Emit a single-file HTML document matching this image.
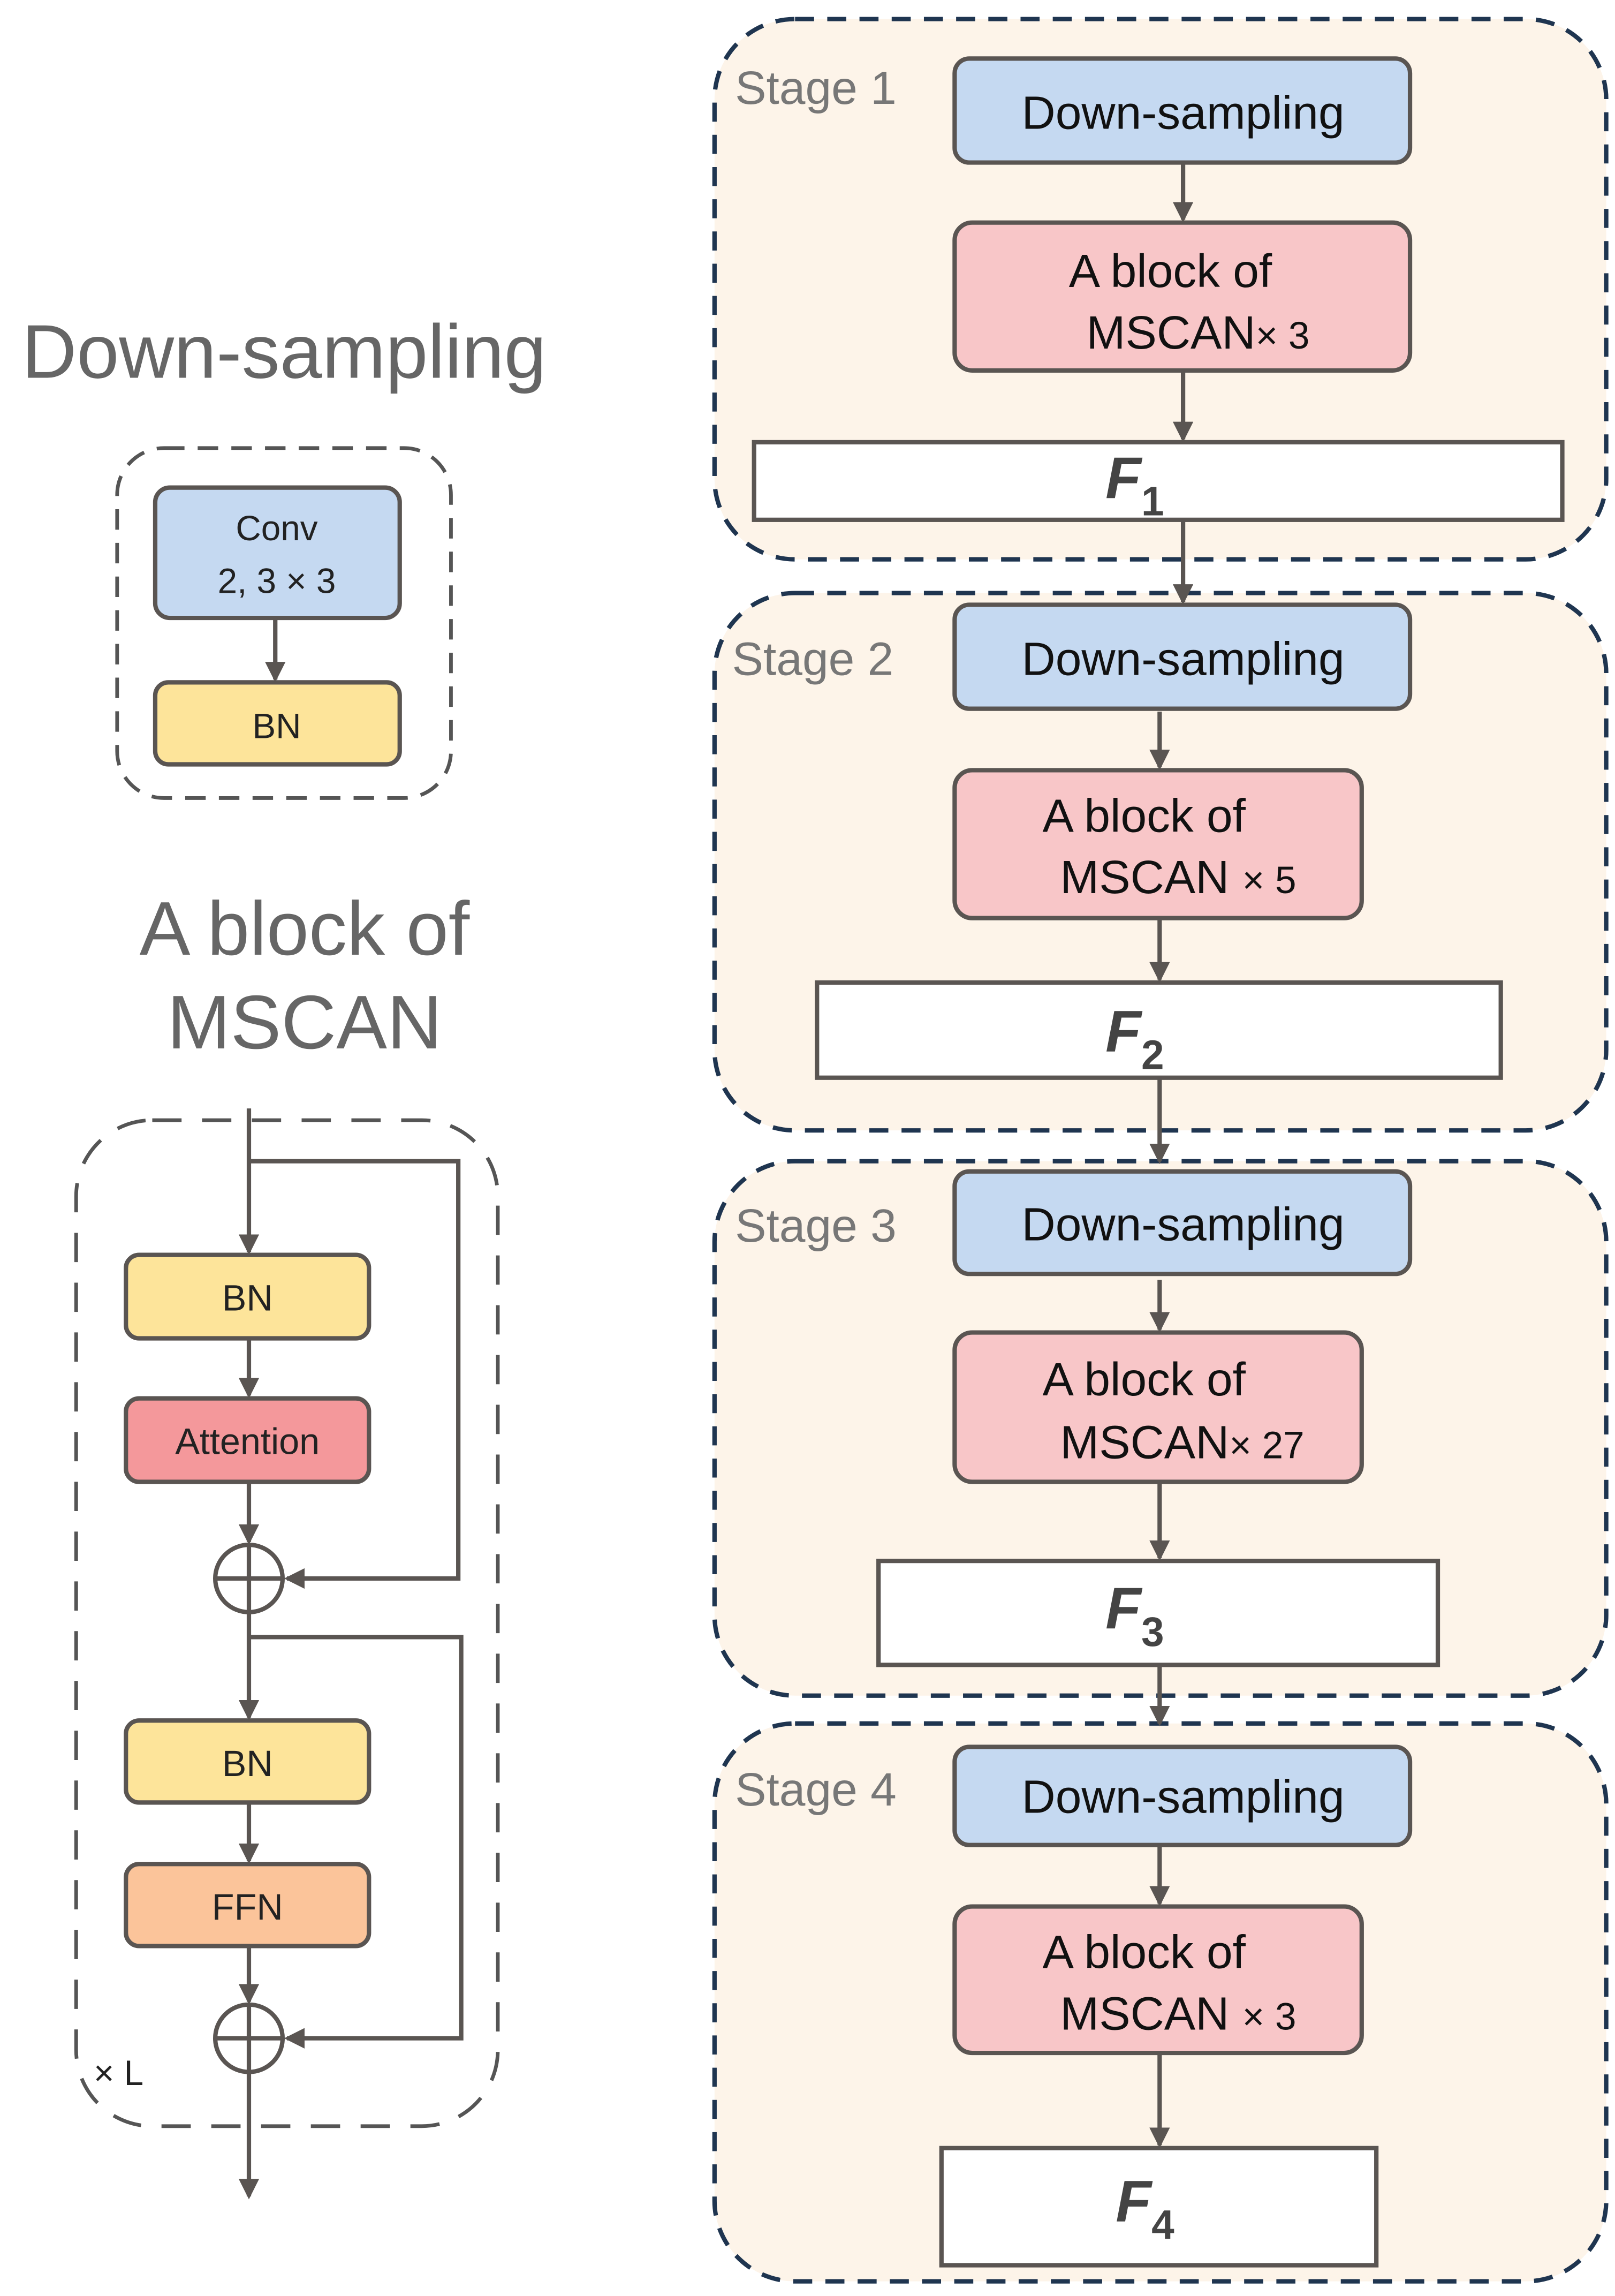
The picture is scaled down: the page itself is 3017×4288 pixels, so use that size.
<!DOCTYPE html>
<html><head><meta charset="utf-8"><style>
html,body{margin:0;padding:0;background:#fff;}
svg{display:block;}
text{font-family:"Liberation Sans",sans-serif;}
</style></head><body>
<svg width="3017" height="4288" viewBox="0 0 1103 1568" preserveAspectRatio="none" xmlns="http://www.w3.org/2000/svg">
<defs>
<marker id="ah2" markerWidth="14" markerHeight="14" refX="12" refY="7" orient="auto" markerUnits="userSpaceOnUse" viewBox="0 0 14 14"><path d="M0,0 L14,7 L0,14 z" fill="#5a5552"/></marker>
</defs>
<rect width="1103" height="1568" fill="#fff"/>

<!-- Left: Down-sampling -->
<text x="194" y="258" font-size="52" fill="#666" text-anchor="middle">Down-sampling</text>
<rect x="80" y="306" width="228" height="239" rx="32" fill="none" stroke="#555" stroke-width="2.5" stroke-dasharray="14,9"/>
<rect x="106" y="333" width="167" height="89" rx="10" fill="#c5d9f1" stroke="#5a5552" stroke-width="3"/>
<text x="189" y="369" font-size="24" fill="#222" text-anchor="middle">Conv</text>
<text x="189" y="405" font-size="24" fill="#222" text-anchor="middle">2, 3 × 3</text>
<line x1="188" y1="422" x2="188" y2="464" stroke="#5a5552" stroke-width="3" marker-end="url(#ah2)"/>
<rect x="106" y="466" width="167" height="56" rx="9" fill="#fde49a" stroke="#5a5552" stroke-width="3"/>
<text x="189" y="504" font-size="24" fill="#222" text-anchor="middle">BN</text>

<!-- Left: A block of MSCAN -->
<text x="208" y="652" font-size="52" fill="#666" text-anchor="middle">A block of</text>
<text x="208" y="716" font-size="52" fill="#666" text-anchor="middle">MSCAN</text>
<rect x="52" y="765" width="288" height="687" rx="52" fill="none" stroke="#555" stroke-width="2.5" stroke-dasharray="20,14"/>
<g stroke="#5a5552" stroke-width="3" fill="none">
<line x1="170" y1="757" x2="170" y2="855" marker-end="url(#ah2)"/>
<polyline points="170,793 313,793 313,1078 196,1078" marker-end="url(#ah2)"/>
<line x1="170" y1="914" x2="170" y2="953" marker-end="url(#ah2)"/>
<line x1="170" y1="1012" x2="170" y2="1053" marker-end="url(#ah2)"/>
<circle cx="170" cy="1078" r="23"/>
<line x1="147" y1="1078" x2="193" y2="1078"/>
<line x1="170" y1="1055" x2="170" y2="1101"/>
<line x1="170" y1="1101" x2="170" y2="1173" marker-end="url(#ah2)"/>
<polyline points="170,1118 315,1118 315,1392 196,1392" marker-end="url(#ah2)"/>
<line x1="170" y1="1231" x2="170" y2="1271" marker-end="url(#ah2)"/>
<line x1="170" y1="1329" x2="170" y2="1367" marker-end="url(#ah2)"/>
<circle cx="170" cy="1392" r="23"/>
<line x1="147" y1="1392" x2="193" y2="1392"/>
<line x1="170" y1="1369" x2="170" y2="1500" marker-end="url(#ah2)"/>
</g>
<rect x="86" y="857" width="166" height="57" rx="9" fill="#fde49a" stroke="#5a5552" stroke-width="3"/>
<text x="169" y="895" font-size="25" fill="#222" text-anchor="middle">BN</text>
<rect x="86" y="955" width="166" height="57" rx="9" fill="#f4989b" stroke="#5a5552" stroke-width="3"/>
<text x="169" y="993" font-size="25" fill="#222" text-anchor="middle">Attention</text>
<rect x="86" y="1175" width="166" height="56" rx="9" fill="#fde49a" stroke="#5a5552" stroke-width="3"/>
<text x="169" y="1213" font-size="25" fill="#222" text-anchor="middle">BN</text>
<rect x="86" y="1273" width="166" height="56" rx="9" fill="#fbc49a" stroke="#5a5552" stroke-width="3"/>
<text x="169" y="1311" font-size="25" fill="#222" text-anchor="middle">FFN</text>
<text x="64" y="1424" font-size="24" fill="#222">× L</text>

<!-- Right stages -->
<g fill="#fdf4e9" stroke="#1f3550" stroke-width="3" stroke-dasharray="13,9">
<rect x="488" y="13" width="609" height="369" rx="55"/>
<rect x="488" y="405" width="609" height="367" rx="55"/>
<rect x="488" y="793" width="609" height="365" rx="55"/>
<rect x="488" y="1177" width="609" height="381" rx="55"/>
</g>
<g font-size="32" fill="#777">
<text x="502" y="71">Stage 1</text>
<text x="500" y="461">Stage 2</text>
<text x="502" y="848">Stage 3</text>
<text x="502" y="1233">Stage 4</text>
</g>

<g stroke="#5a5552" stroke-width="3">
<rect x="652" y="40" width="311" height="71" rx="10" fill="#c5d9f1"/>
<rect x="652" y="152" width="311" height="101" rx="12" fill="#f8c6c8"/>
<rect x="515" y="302" width="552" height="53" fill="#fff"/>
<rect x="652" y="413" width="311" height="71" rx="10" fill="#c5d9f1"/>
<rect x="652" y="526" width="278" height="101" rx="12" fill="#f8c6c8"/>
<rect x="558" y="671" width="467" height="65" fill="#fff"/>
<rect x="652" y="800" width="311" height="70" rx="10" fill="#c5d9f1"/>
<rect x="652" y="910" width="278" height="102" rx="12" fill="#f8c6c8"/>
<rect x="600" y="1066" width="382" height="71" fill="#fff"/>
<rect x="652" y="1193" width="311" height="67" rx="10" fill="#c5d9f1"/>
<rect x="652" y="1302" width="278" height="100" rx="12" fill="#f8c6c8"/>
<rect x="643" y="1467" width="297" height="80" fill="#fff"/>
</g>
<g stroke="#5a5552" stroke-width="3">
<line x1="808" y1="111" x2="808" y2="150" marker-end="url(#ah2)"/>
<line x1="808" y1="253" x2="808" y2="300" marker-end="url(#ah2)"/>
<line x1="808" y1="355" x2="808" y2="411" marker-end="url(#ah2)"/>
<line x1="792" y1="486" x2="792" y2="524" marker-end="url(#ah2)"/>
<line x1="792" y1="627" x2="792" y2="669" marker-end="url(#ah2)"/>
<line x1="792" y1="736" x2="792" y2="793" marker-end="url(#ah2)"/>
<line x1="792" y1="874" x2="792" y2="908" marker-end="url(#ah2)"/>
<line x1="792" y1="1012" x2="792" y2="1064" marker-end="url(#ah2)"/>
<line x1="792" y1="1137" x2="792" y2="1177" marker-end="url(#ah2)"/>
<line x1="792" y1="1260" x2="792" y2="1300" marker-end="url(#ah2)"/>
<line x1="792" y1="1402" x2="792" y2="1465" marker-end="url(#ah2)"/>
</g>

<g font-size="32" fill="#111" text-anchor="middle">
<text x="808" y="88">Down-sampling</text>
<text x="808" y="461">Down-sampling</text>
<text x="808" y="847">Down-sampling</text>
<text x="808" y="1238">Down-sampling</text>
</g>
<g font-size="32" fill="#111">
<text x="730" y="196">A block of</text>
<text x="742" y="238">MSCAN<tspan font-size="26">× 3</tspan></text>
<text x="712" y="568">A block of</text>
<text x="724" y="610">MSCAN <tspan font-size="26">× 5</tspan></text>
<text x="712" y="953">A block of</text>
<text x="724" y="996">MSCAN<tspan font-size="26">× 27</tspan></text>
<text x="712" y="1344">A block of</text>
<text x="724" y="1386">MSCAN <tspan font-size="26">× 3</tspan></text>
</g>
<g font-family="Liberation Serif, serif" font-weight="bold" font-style="italic" fill="#444" font-size="40">
<text x="755" y="340">F<tspan font-style="normal" font-size="28" dy="12">1</tspan></text>
<text x="755" y="718">F<tspan font-style="normal" font-size="28" dy="12">2</tspan></text>
<text x="755" y="1112">F<tspan font-style="normal" font-size="28" dy="12">3</tspan></text>
<text x="762" y="1517">F<tspan font-style="normal" font-size="28" dy="12">4</tspan></text>
</g>
</svg>
</body></html>
